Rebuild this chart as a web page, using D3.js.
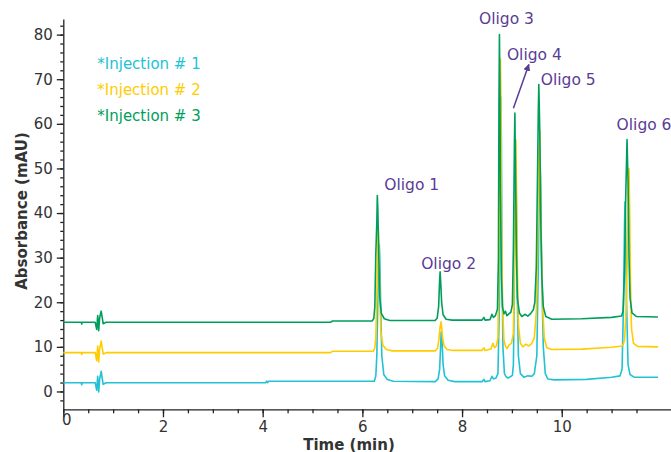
<!DOCTYPE html>
<html>
<head>
<meta charset="utf-8">
<script src="https://cdn.jsdelivr.net/npm/d3@7"></script>
<style>
    body { margin: 0; background: #fff; }
    svg { display: block; }
    .tick text { font-family: "DejaVu Sans", Verdana, sans-serif; font-size: 15px; fill: #333; }
    .axis path, .axis line { stroke: #222; stroke-width: 1.3; }
    .trace { fill: none; stroke-width: 1.6; stroke-linejoin: round; }
</style>
</head>
<body>
<div id="chart"></div>
<script>
// time (min), absorbance (mAU)
var inj1 = [[0,1.95],[0.36,1.95],[0.37,1.5],[0.38,1.95],[0.64,1.95],[0.67,0.3],[0.69,3.4],[0.71,-0.1],[0.73,2.8],[0.76,4.5],[0.78,3.0],[0.80,1.6],[0.86,1.95],[4.06,1.95],[4.08,2.3],[4.10,2.0],[4.12,2.3],[6.24,2.3],[6.27,3.5],[6.29,8],[6.31,20],[6.33,30],[6.34,33],[6.35,30],[6.37,18],[6.39,8],[6.43,3.8],[6.50,2.7],[6.62,2.3],[7.46,2.2],[7.52,2.8],[7.55,5],[7.57,10],[7.58,13.3],[7.60,11],[7.62,6],[7.65,3.5],[7.72,2.5],[7.85,2.2],[8.40,2.2],[8.44,2.7],[8.46,2.2],[8.56,2.4],[8.60,3.4],[8.63,2.8],[8.68,3.0],[8.72,4],[8.75,20],[8.77,52],[8.78,66],[8.79,55],[8.80,30],[8.82,10],[8.85,4],[8.88,3.4],[8.92,3.0],[8.97,3.3],[9.01,3.6],[9.03,6],[9.05,25],[9.07,45],[9.08,50],[9.09,42],[9.11,20],[9.13,8],[9.17,4],[9.24,3.2],[9.32,3.5],[9.40,3.4],[9.45,4],[9.50,8],[9.53,28],[9.55,45],[9.57,50],[9.58,44],[9.60,25],[9.63,10],[9.67,4],[9.72,2.8],[9.85,2.6],[10.5,2.7],[11.0,3.2],[11.17,3.5],[11.21,5],[11.24,20],[11.26,38],[11.27,42.5],[11.28,38],[11.30,20],[11.33,6],[11.37,3.8],[11.45,3.2],[11.93,3.2]];

var inj2 = [[0,8.7],[0.36,8.7],[0.37,8.3],[0.38,8.7],[0.64,8.7],[0.67,6.9],[0.69,10.2],[0.71,6.6],[0.73,9.6],[0.76,11.3],[0.78,9.8],[0.80,8.4],[0.86,8.7],[5.36,8.7],[5.40,9.0],[6.22,9.0],[6.25,9.8],[6.27,12],[6.29,22],[6.31,31],[6.32,36.6],[6.33,33],[6.35,22],[6.37,13.5],[6.41,10.4],[6.48,9.4],[6.60,9.1],[7.46,9.1],[7.51,9.7],[7.54,12],[7.56,14.5],[7.58,15.6],[7.59,14.5],[7.61,12],[7.64,10.2],[7.70,9.4],[7.82,9.2],[8.40,9.2],[8.44,9.8],[8.46,9.2],[8.58,9.5],[8.62,10.8],[8.65,9.8],[8.69,10.2],[8.72,12],[8.74,30],[8.76,62],[8.77,74.5],[8.78,64],[8.79,40],[8.81,20],[8.84,11.5],[8.87,10.2],[8.90,9.6],[8.94,10.4],[8.99,10.8],[9.03,13],[9.05,30],[9.07,50],[9.08,56.4],[9.09,48],[9.11,28],[9.13,15],[9.17,10.8],[9.22,10.0],[9.28,10.6],[9.34,10.2],[9.40,10.8],[9.45,12],[9.49,18],[9.52,35],[9.54,52],[9.56,58.5],[9.57,50],[9.59,32],[9.62,18],[9.65,12],[9.70,9.8],[9.80,9.4],[10.4,9.5],[11.0,9.9],[11.22,10.2],[11.26,11.5],[11.29,18],[11.32,32],[11.34,45],[11.35,50],[11.36,42],[11.38,24],[11.40,14],[11.44,10.8],[11.52,10.1],[11.93,10.0]];

var inj3 = [[0,15.5],[0.36,15.5],[0.37,15.1],[0.38,15.5],[0.64,15.5],[0.67,13.9],[0.69,17.0],[0.71,13.6],[0.73,16.6],[0.76,18.0],[0.78,16.6],[0.80,15.2],[0.86,15.5],[5.36,15.5],[5.40,15.8],[6.20,15.8],[6.23,16.4],[6.25,19],[6.27,31],[6.29,38],[6.30,43.9],[6.31,41],[6.33,30],[6.35,21],[6.38,17.5],[6.44,16.3],[6.55,15.9],[7.46,15.9],[7.50,16.4],[7.53,19],[7.55,25],[7.56,26.8],[7.57,25],[7.59,20],[7.62,17.2],[7.68,16.2],[7.80,16.0],[8.40,16.0],[8.44,16.6],[8.46,16.0],[8.56,16.1],[8.60,17.3],[8.63,16.6],[8.67,17.0],[8.71,18.5],[8.73,30],[8.74,64],[8.75,80],[8.76,68],[8.77,45],[8.79,26],[8.81,19],[8.84,17.4],[8.87,18.0],[8.90,17.0],[8.94,17.4],[8.98,17.8],[9.01,19.5],[9.03,32],[9.05,55],[9.06,62.4],[9.07,52],[9.09,32],[9.11,21],[9.15,17.6],[9.20,16.8],[9.26,17.3],[9.32,16.9],[9.38,17.5],[9.43,18.3],[9.46,20],[9.49,28],[9.51,45],[9.53,63],[9.54,68.8],[9.56,58],[9.58,38],[9.60,26],[9.63,19],[9.68,16.8],[9.80,16.2],[10.4,16.3],[11.0,16.6],[11.20,16.9],[11.23,18],[11.26,27],[11.28,42],[11.31,56.5],[11.33,47],[11.35,30],[11.37,21],[11.41,17.6],[11.50,16.8],[11.93,16.7]];

var seriesNames = ["*Injection # 1", "*Injection # 2", "*Injection # 3"];
var seriesColors = ["#22c2d4", "#ffcc00", "#009e5c"];

var peakLabels = ["Oligo 1", "Oligo 2", "Oligo 3", "Oligo 4", "Oligo 5", "Oligo 6"];
var peakLabelPos = [[6.44, 45.2], [7.18, 27.4], [8.34, 82.4], [8.90, 74.3], [9.58, 68.7], [11.10, 58.6]];

var xTicks = [0, 2, 4, 6, 8, 10];
var yTicks = [0, 10, 20, 30, 40, 50, 60, 70, 80];

var width = 671, height = 452;

var x = d3.scaleLinear().domain([0, 12.2]).range([63.3, 671.4]);
var y = d3.scaleLinear().domain([-4, 83.5]).range([409.3, 19]);

var svg = d3.select("#chart").append("svg")
    .attr("width", width)
    .attr("height", height);

svg.append("defs").append("marker")
    .attr("id", "arrow")
    .attr("viewBox", "0 0 10 10")
    .attr("refX", 9).attr("refY", 5)
    .attr("markerWidth", 7).attr("markerHeight", 7)
    .attr("markerUnits", "userSpaceOnUse")
    .attr("orient", "auto")
    .append("path")
    .attr("d", "M0,0L10,5L0,10z")
    .attr("fill", "#5a3c96");

// minor ticks first, majors on top
svg.append("g")
    .attr("class", "axis")
    .attr("transform", "translate(0," + y(-4) + ")")
    .call(d3.axisBottom(x).tickValues(d3.range(0, 11.6, 0.5)).tickSize(4).tickFormat(""))
    .select(".domain").remove();

svg.append("g")
    .attr("class", "axis")
    .attr("transform", "translate(" + x(0) + ",0)")
    .call(d3.axisLeft(y).tickValues(d3.range(-2, 83, 2)).tickSize(3).tickFormat(""))
    .select(".domain").remove();

var xAxis = svg.append("g")
    .attr("class", "axis")
    .attr("transform", "translate(0," + y(-4) + ")")
    .call(d3.axisBottom(x).tickValues(xTicks).tickSize(8).tickSizeOuter(0).tickPadding(4));

xAxis.selectAll(".tick text")
    .filter(function(d) { return d === 0; })
    .attr("dx", 3).attr("dy", "0.25em");

svg.append("g")
    .attr("class", "axis")
    .attr("transform", "translate(" + x(0) + ",0)")
    .call(d3.axisLeft(y).tickValues(yTicks).tickSize(6.5).tickSizeOuter(0).tickPadding(4));

svg.append("text")
    .attr("x", 349).attr("y", 449.5)
    .attr("text-anchor", "middle")
    .style("font-family", "DejaVu Sans, Verdana, sans-serif")
    .style("font-size", "15px").style("font-weight", "bold").style("fill", "#333")
    .text("Time (min)");

svg.append("text")
    .attr("transform", "translate(27,211)rotate(-90)")
    .attr("text-anchor", "middle")
    .style("font-family", "DejaVu Sans, Verdana, sans-serif")
    .style("font-size", "15px").style("font-weight", "bold").style("fill", "#333")
    .text("Absorbance (mAU)");

var line = d3.line()
    .x(function(d) { return x(d[0]); })
    .y(function(d) { return y(d[1]); });

svg.append("g").selectAll("path")
    .data([inj1, inj2, inj3])
    .enter().append("path")
    .attr("class", "trace")
    .attr("stroke", function(d, i) { return seriesColors[i]; })
    .attr("d", line);

svg.append("g").selectAll("text")
    .data(seriesNames)
    .enter().append("text")
    .attr("x", 97.3)
    .attr("y", function(d, i) { return 69 + i * 26; })
    .style("font-family", "DejaVu Sans, Verdana, sans-serif")
    .style("font-size", "15px")
    .style("fill", function(d, i) { return seriesColors[i]; })
    .text(function(d) { return d; });

svg.append("g").selectAll("text")
    .data(peakLabels)
    .enter().append("text")
    .attr("x", function(d, i) { return x(peakLabelPos[i][0]); })
    .attr("y", function(d, i) { return y(peakLabelPos[i][1]); })
    .style("font-family", "DejaVu Sans, Verdana, sans-serif")
    .style("font-size", "15.5px")
    .style("fill", "#5a3c96")
    .text(function(d) { return d; });

// Oligo 4 pointer
svg.append("line")
    .attr("x1", x(9.03)).attr("y1", y(63.5))
    .attr("x2", x(9.34)).attr("y2", y(73.3))
    .attr("stroke", "#5a3c96")
    .attr("stroke-width", 1.5)
    .attr("marker-end", "url(#arrow)");
</script>
</body>
</html>
